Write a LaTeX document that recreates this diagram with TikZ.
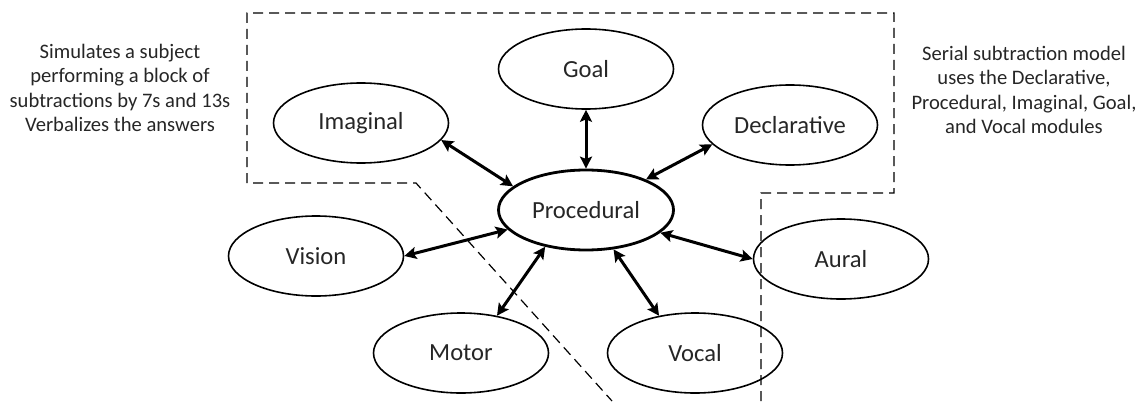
\documentclass[tikz,border=0pt]{standalone}
\usepackage{fontspec}
\setmainfont{Carlito}
\usetikzlibrary{arrows.meta,positioning,shapes.geometric}

\begin{document}
\begin{tikzpicture}[x=0.5pt, y=-0.5pt,
                >={Stealth[length=6pt,width=6pt,inset=1.2pt]},
                on grid,
                module/.style = {draw, ellipse, line width=0.8pt, minimum width=87.5pt, minimum height=40pt,
                                 inner sep=0pt, text=black!85, font=\fontsize{12.3}{14}\selectfont},
                link/.style = {<->, line width=1.5pt},
                note/.style = {align=center, text=black!85, font=\fontsize{10.3}{12.2}\selectfont},
                boundary/.style = {dash pattern=on 5pt off 3pt, line width=0.6pt}]
            \useasboundingbox (0,0) rectangle (1143,401);

            % Nodes
            \node[module,line width=1.4pt] (proc) at (586,210) {Procedural};
            \node[module] (goal) [above=70.5pt of proc] {Goal};
            \node[module] (imag) [above left=43.5pt and 112.5pt of proc] {Imaginal};
            \node[module] (decl) [above right=42.5pt and 102pt of proc] {Declarative};
            \node[module] (vis) [below left=23pt and 135pt of proc] {Vision};
            \node[module] (mot) [below left=71.5pt and 62.5pt of proc] {Motor};
            \node[module] (voc) [below right=71.5pt and 54.5pt of proc] {Vocal};
            \node[module] (aur) [below right=24.5pt and 127.5pt of proc] {Aural};

            % Notes
            \node[note] (left) at (120,88) {Simulates a subject\\performing a block of\\subtractions by 7s and 13s\\Verbalizes the answers};
            \node[note] (right) at (1024,90) {Serial subtraction model\\uses the Declarative,\\Procedural, Imaginal, Goal,\\and Vocal modules};

            % Boundary
            \draw[boundary] (761,401) -- (761,193) -- (894,193) -- (894,13) -- (247,13)
                            -- (247,183) -- (416,183) -- (612,401);

            %Edges
            \draw[link] (goal.south) -- (proc.north);
            \draw[link] (imag.-12) -- (proc.162);
            \draw[link] (decl.-166) -- (proc.27);
            \draw[link] (vis.0) -- (proc.-166);
            \draw[link] (mot.46) -- (proc.-138);
            \draw[link] (voc.134) -- (proc.-55);
            \draw[link] (aur.180) -- (proc.-17);
        \end{tikzpicture}
\end{document}
